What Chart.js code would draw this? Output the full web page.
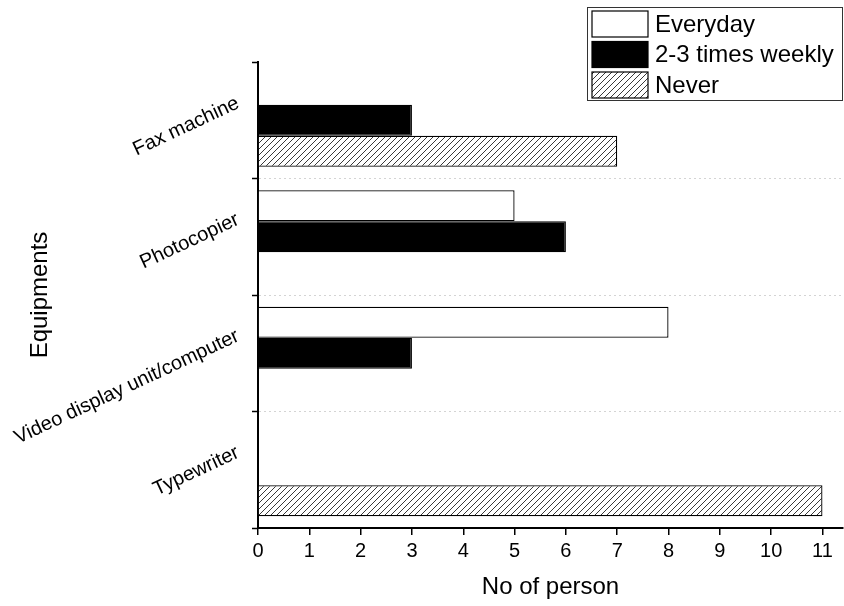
<!DOCTYPE html>
<html>
<head>
<meta charset="utf-8">
<script src="https://cdn.jsdelivr.net/npm/chart.js@4"></script>
<style>
  html, body { margin: 0; padding: 0; background: #fff; }
  #wrap { width: 844px; height: 606px; }
</style>
</head>
<body>
<div id="wrap"><canvas id="chart" width="844" height="606"></canvas></div>
<script>
const equipments = ['Fax machine', 'Photocopier', 'Video display unit/computer', 'Typewriter'];
const everyday = [0, 5, 8, 0];
const weekly = [3, 6, 3, 0];
const never = [7, 0, 0, 11];
const xTicks = [0, 1, 2, 3, 4, 5, 6, 7, 8, 9, 10, 11];

const FONT = "'Liberation Sans', Arial, Helvetica, sans-serif";

function makeHatch() {
  const c = document.createElement('canvas');
  c.width = 6; c.height = 6;
  const g = c.getContext('2d');
  g.fillStyle = '#fff';
  g.fillRect(0, 0, 6, 6);
  g.strokeStyle = '#222';
  g.lineWidth = 0.9;
  g.beginPath();
  g.moveTo(0, 6); g.lineTo(6, 0);
  g.moveTo(-1, 1); g.lineTo(1, -1);
  g.moveTo(5, 7); g.lineTo(7, 5);
  g.stroke();
  return g.createPattern(c, 'repeat');
}
const hatch = makeHatch();

// legend sits above the plot, overlapping the top right corner
const boxLegend = {
  id: 'boxLegend',
  afterDraw(chart) {
    const ctx = chart.ctx;
    const right = chart.chartArea.right;
    const x0 = right - 256, y0 = 7, w = 256, h = 94;
    const items = chart.data.datasets;
    ctx.save();
    ctx.fillStyle = '#fff';
    ctx.fillRect(x0, y0, w, h);
    ctx.strokeStyle = '#333';
    ctx.lineWidth = 1;
    ctx.strokeRect(x0 + 0.5, y0 + 0.5, w - 1, h - 1);
    ctx.font = '24px ' + FONT;
    ctx.textBaseline = 'middle';
    ctx.textAlign = 'left';
    items.forEach((ds, i) => {
      const sy = y0 + 4 + i * 30.5;
      ctx.fillStyle = ds.backgroundColor;
      ctx.fillRect(x0 + 5, sy, 56, 26);
      ctx.strokeStyle = '#000';
      ctx.lineWidth = 1.2;
      ctx.strokeRect(x0 + 5, sy, 56, 26);
      ctx.fillStyle = '#000';
      ctx.fillText(ds.label, x0 + 68, sy + 14);
    });
    ctx.restore();
  }
};

Chart.defaults.font.family = FONT;
Chart.defaults.color = '#000';

new Chart(document.getElementById('chart'), {
  type: 'bar',
  data: {
    labels: equipments,
    datasets: [
      { label: 'Everyday', data: everyday, backgroundColor: '#fff' },
      { label: '2-3 times weekly', data: weekly, backgroundColor: '#000' },
      { label: 'Never', data: never, backgroundColor: hatch },
    ].map(d => Object.assign(d, {
      borderColor: '#000',
      borderWidth: 1.3,
      categoryPercentage: 0.8,
      barPercentage: 1,
    })),
  },
  options: {
    indexAxis: 'y',
    responsive: false,
    animation: false,
    layout: { padding: { top: 62, right: 1, left: 0, bottom: 0 } },
    plugins: {
      legend: { display: false },
      tooltip: { enabled: false },
    },
    scales: {
      x: {
        min: 0,
        max: 11.4,
        afterBuildTicks: s => { s.ticks = xTicks.map(v => ({ value: v })); },
        afterFit: s => { s.height = 78; },
        grid: {
          drawOnChartArea: false,
          color: '#000',
          tickLength: 7,
          lineWidth: 1.5,
        },
        border: { color: '#000', width: 2 },
        ticks: { font: { size: 20 }, padding: 4, color: '#000' },
        title: {
          display: true,
          text: 'No of person',
          font: { size: 24 },
          padding: { top: 4, bottom: 4 },
        },
      },
      y: {
        afterFit: s => { s.width = 258; },
        grid: {
          offset: true,
          color: ctx => (ctx.index > 0 && ctx.index < equipments.length) ? '#d4d4d4' : 'rgba(0,0,0,0)',
          tickColor: '#000',
          tickBorderDash: [],
          tickLength: 6,
          lineWidth: 1,
          tickWidth: 1.5,
        },
        border: { color: '#000', width: 2, dash: [2, 3] },
        ticks: {
          font: { size: 20 },
          minRotation: 25,
          maxRotation: 25,
          padding: 14,
          labelOffset: -18,
          color: '#000',
        },
        title: {
          display: true,
          text: 'Equipments',
          font: { size: 24 },
          padding: { top: 26, bottom: 0 },
        },
      },
    },
  },
  plugins: [boxLegend],
});
</script>
</body>
</html>
